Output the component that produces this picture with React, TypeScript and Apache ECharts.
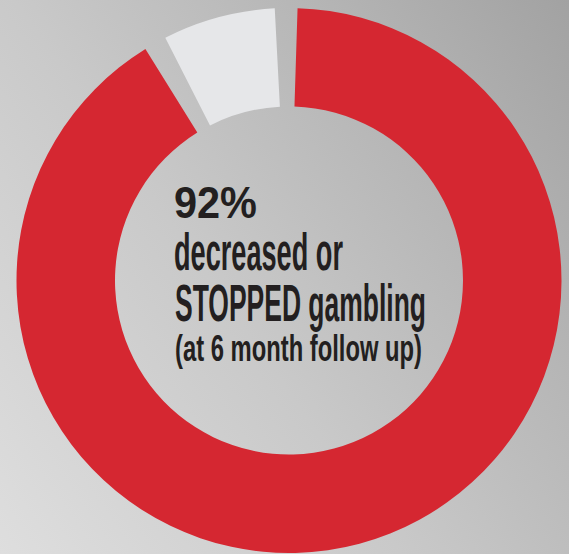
import React, { useEffect, useRef } from "react";
import * as echarts from "echarts";

// ---- data ----
const categories = ["Decreased or stopped gambling", "Did not decrease"];
const values = [92, 8];
const sliceColors = ["#d52731", "#e6e7e9"];
const headline = "92%";
const bodyLines = ["decreased or", "STOPPED gambling", "(at 6 month follow up)"];

const FONT_FAMILY = '"Liberation Sans", Arial, sans-serif';

function measure(text: string, font: string): number {
  const c = document.createElement("canvas");
  const ctx = c.getContext("2d")!;
  ctx.font = font;
  return ctx.measureText(text).width;
}

export default function App() {
  const ref = useRef<HTMLDivElement>(null);

  useEffect(() => {
    document.body.style.margin = "0";
    const chart = echarts.init(ref.current!, null, { renderer: "svg" });

    const specs = [
      { text: headline, x: 174, y: 202.5, size: 44, weight: "bold", width: 83 },
      { text: bodyLines[0], x: 174, y: 251.5, size: 52, weight: "bold", width: 169 },
      { text: bodyLines[1], x: 175, y: 303.5, size: 51, weight: "bold", width: 251 },
      { text: bodyLines[2], x: 175, y: 349, size: 37, weight: "bold", width: 247 },
    ];

    const texts = specs.map((s) => {
      const font = `${s.weight} ${s.size}px ${FONT_FAMILY}`;
      const w = measure(s.text, font) || s.width;
      return {
        type: "text",
        x: s.x,
        y: s.y,
        scaleX: s.width / w,
        silent: true,
        style: {
          text: s.text,
          fill: "#231f20",
          fontSize: s.size,
          fontWeight: s.weight,
          fontFamily: FONT_FAMILY,
          align: "left",
          verticalAlign: "middle",
        },
      };
    });

    chart.setOption({
      animation: false,
      series: [
        {
          type: "pie",
          center: [289, 280.5],
          radius: [174, 272.5],
          startAngle: 90.6,
          clockwise: true,
          padAngle: 4.8,
          silent: true,
          label: { show: false },
          labelLine: { show: false },
          emphasis: { disabled: true },
          data: categories.map((name, i) => ({
            name,
            value: values[i],
            itemStyle: { color: sliceColors[i] },
          })),
        },
      ],
      graphic: texts,
    });

    return () => chart.dispose();
  }, []);

  return (
    <div
      ref={ref}
      style={{
        position: "absolute",
        left: 0,
        top: 0,
        width: 569,
        height: 554,
        background:
          "linear-gradient(55deg, #dedede 0%, #c9c9c9 42%, #b6b6b6 72%, #a2a2a2 100%)",
      }}
    />
  );
}
